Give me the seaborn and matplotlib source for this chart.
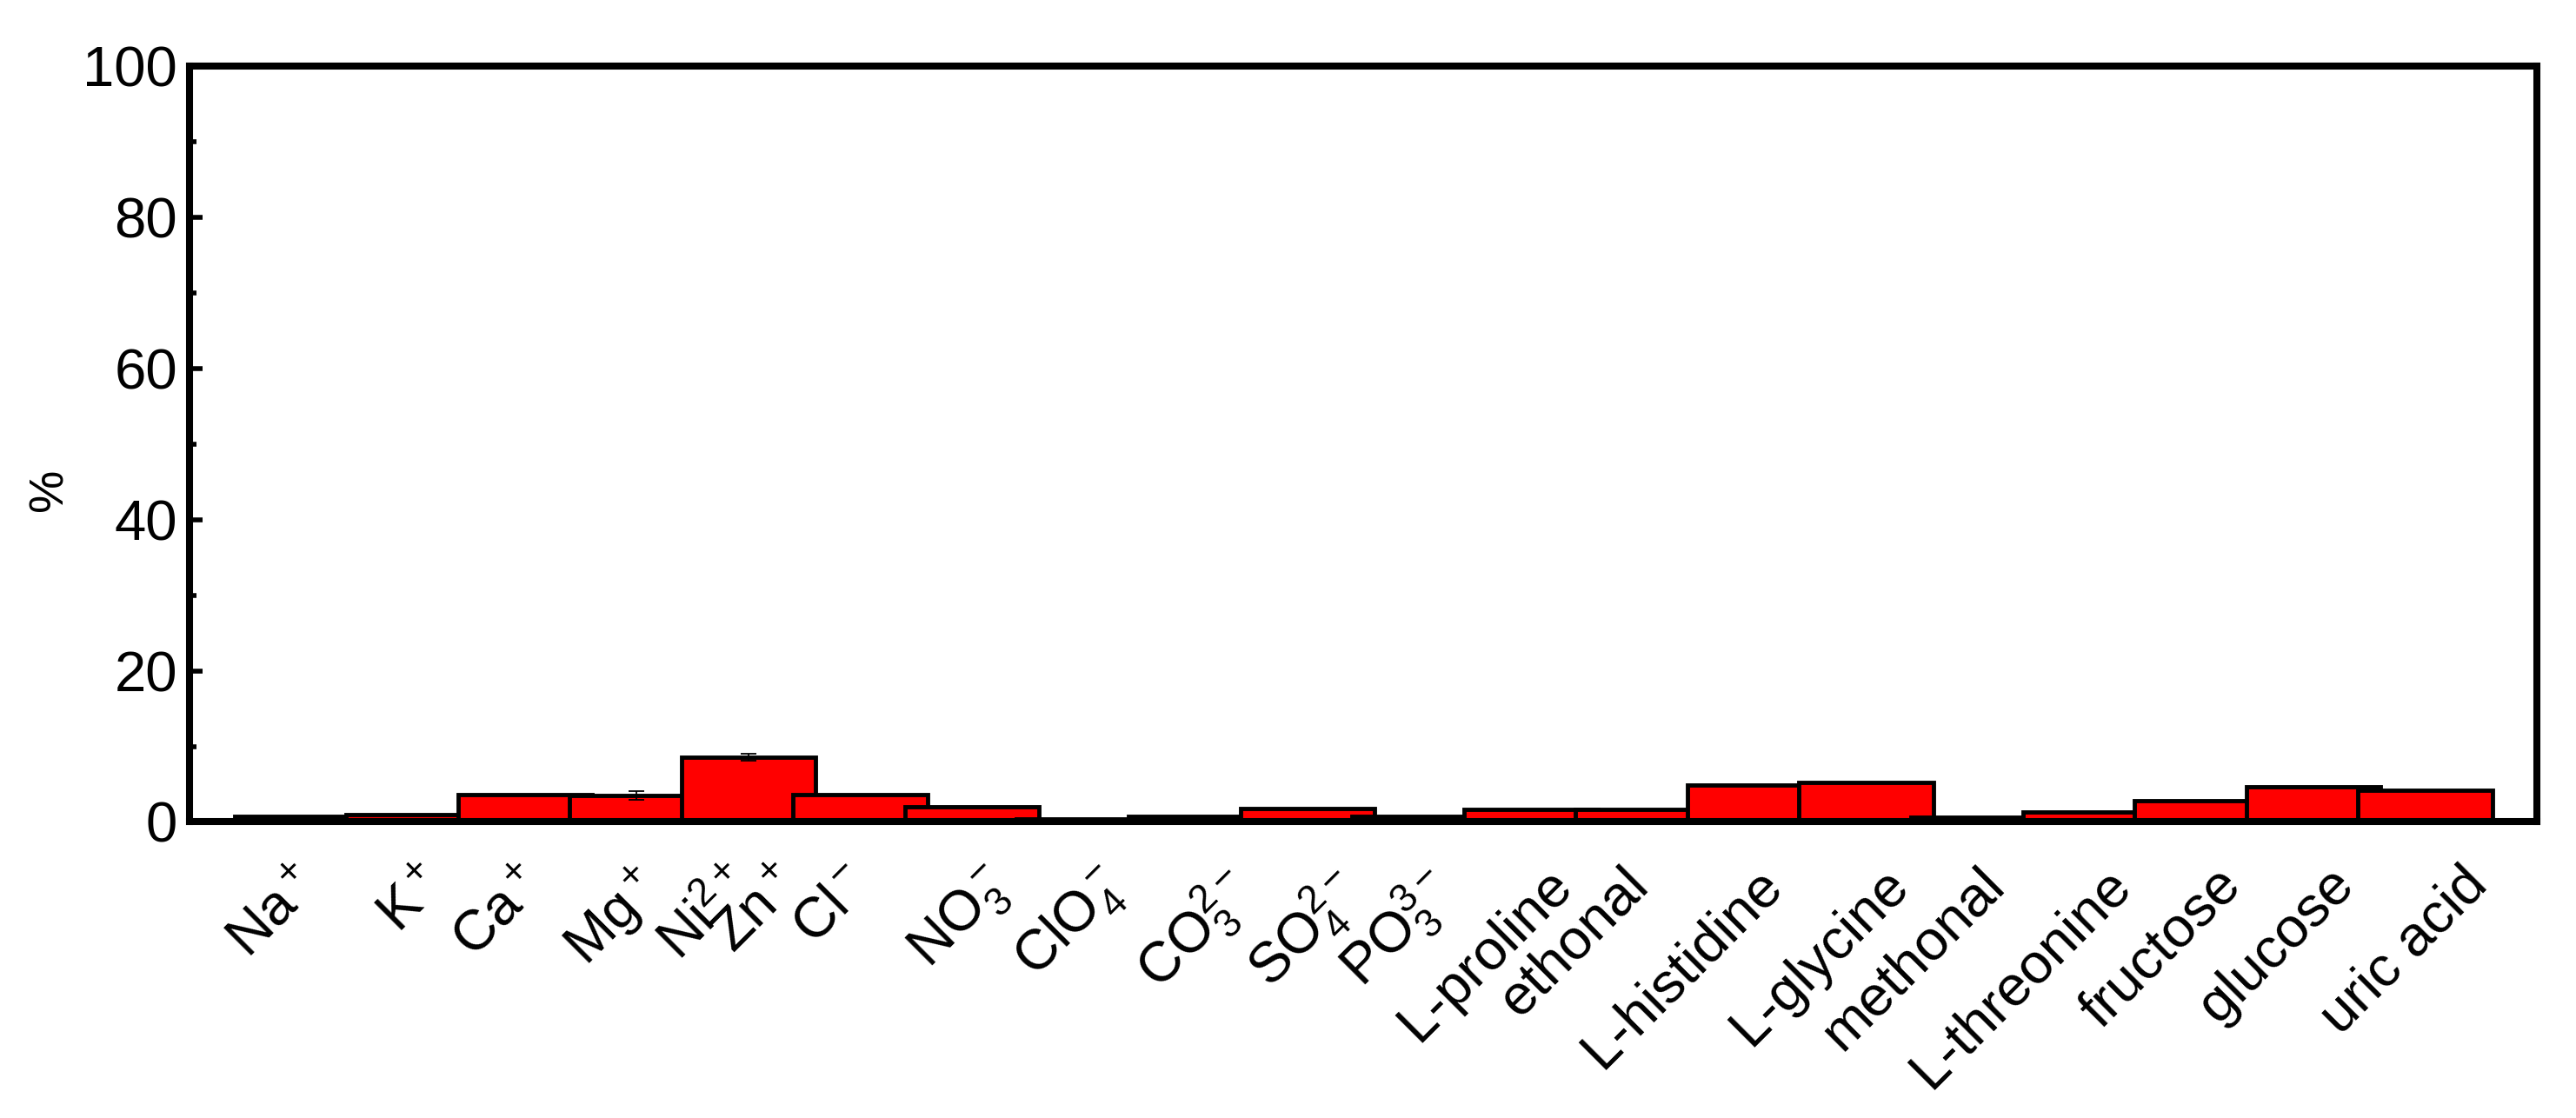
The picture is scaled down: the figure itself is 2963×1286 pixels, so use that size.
import seaborn as sns
import matplotlib.pyplot as plt
import pandas as pd
import numpy as np

sns.set_style('ticks')
plt.rcParams['font.family'] = ['Liberation Sans', 'DejaVu Sans']
plt.rcParams['mathtext.fontset'] = 'custom'
plt.rcParams['mathtext.rm'] = 'Liberation Sans'
plt.rcParams['mathtext.it'] = 'Liberation Sans:italic'
plt.rcParams['mathtext.bf'] = 'Liberation Sans:bold'
for k in ['text.color', 'axes.labelcolor', 'xtick.color', 'ytick.color', 'axes.edgecolor']:
    plt.rcParams[k] = 'black'

# tick labels as printed under the axis (21 of them for 20 bars)
labels = [r'Na$^+$', r'K$^+$', r'Ca$^+$', r'Mg$^+$', r'Ni$^{2+}$', r'Zn$^+$', r'Cl$^-$',
          r'NO$_3^-$', r'ClO$_4^-$', r'CO$_3^{2-}$', r'SO$_4^{2-}$', r'PO$_3^{3-}$',
          'L-proline', 'ethonal', 'L-histidine', 'L-glycine', 'methonal',
          'L-threonine', 'fructose', 'glucose', 'uric acid']
label_pos = [-0.08, 1.05, 1.93, 2.95, 3.79, 4.22, 4.85, 6.08, 7.10, 8.22, 9.19, 10.02,
             11.13, 11.81, 13.01, 14.14, 15.0, 16.13, 17.11, 18.12, 19.32]

# bar heights (%) and error
bar_no = list(range(1, 21))
values = [0.77, 0.98, 3.62, 3.47, 8.55, 3.62, 2.05, 0.45, 0.77, 1.82,
          0.77, 1.69, 1.69, 4.89, 5.20, 0.60, 1.32, 2.76, 4.69, 4.14]
errors = [0, 0, 0, 0.58, 0.45, 0, 0, 0, 0, 0,
          0, 0, 0, 0, 0, 0, 0, 0, 0, 0]

df = pd.DataFrame({'bar': bar_no, 'value': values, 'err': errors})

fig, ax = plt.subplots(figsize=(29.63, 12.86), dpi=100)
fig.subplots_adjust(left=0.0736, right=0.9848, top=0.9409, bottom=0.2648)

sns.barplot(data=df, x='bar', y='value', color='#ff0000', saturation=1,
            width=1.2, edgecolor='black', linewidth=3.5, errorbar=None, ax=ax)

# error bars on top of the bars seaborn drew
xc = np.array([p.get_x() + p.get_width() / 2 for p in ax.patches])
mask = df['err'].values > 0
ax.errorbar(xc[mask], df['value'].values[mask], yerr=df['err'].values[mask],
            fmt='none', ecolor='black', elinewidth=1.3, capsize=6.8, capthick=1.3, zorder=5)

ax.set_xlim(-1, 20)
ax.set_ylim(0, 100)
ax.set_yticks(np.arange(0, 101, 20))
ax.set_yticks(np.arange(10, 100, 20), minor=True)
ax.set_xticks(label_pos)
ax.set_xticklabels(labels, rotation=45, ha='right', va='top', rotation_mode='anchor')
ax.tick_params(axis='x', length=0, pad=30, labelsize=47)
ax.tick_params(axis='y', which='major', direction='in', length=11, width=4, pad=10, labelsize=47)
ax.tick_params(axis='y', which='minor', direction='in', length=6, width=4)
ax.set_xlabel('')
ax.set_ylabel('%', fontsize=40)
ax.yaxis.set_label_coords(-0.05, 0.44)

for s in ax.spines.values():
    s.set_visible(True)
    s.set_linewidth(5.8)
    s.set_color('black')

fig.savefig('out.png', dpi=100, facecolor='white')
